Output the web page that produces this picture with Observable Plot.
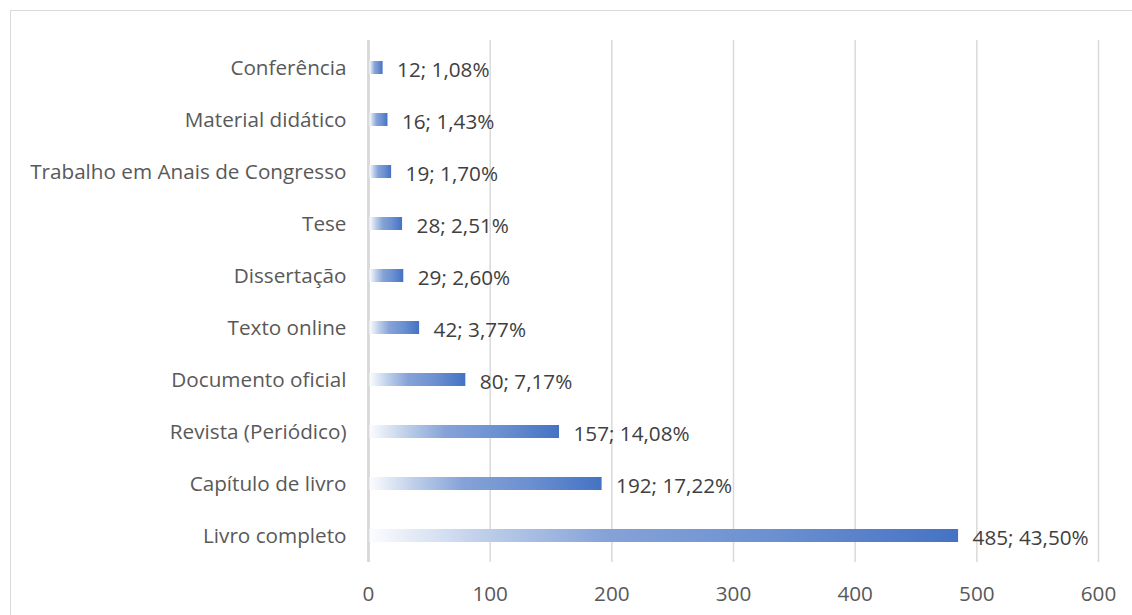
<!DOCTYPE html>
<html>
<head>
<meta charset="utf-8">
<script src="https://cdn.jsdelivr.net/npm/d3@7"></script>
<script src="https://cdn.jsdelivr.net/npm/@observablehq/plot@0.6"></script>
<style>
  html, body { margin: 0; padding: 0; background: #fff; overflow: hidden; }
  #wrap { position: relative; width: 1132px; height: 615px; }
  #frame { position: absolute; left: 10px; top: 10px; width: 1200px; height: 700px; border: 1.5px solid #d9d9d9; box-sizing: border-box; pointer-events: none; }
</style>
</head>
<body>
<div id="wrap"><div id="frame"></div></div>
<script>
const categories = ["Conferência", "Material didático", "Trabalho em Anais de Congresso", "Tese", "Dissertação", "Texto online", "Documento oficial", "Revista (Periódico)", "Capítulo de livro", "Livro completo"];
const counts = [12, 16, 19, 28, 29, 42, 80, 157, 192, 485];
const percents = ["1,08%", "1,43%", "1,70%", "2,51%", "2,60%", "3,77%", "7,17%", "14,08%", "17,22%", "43,50%"];
const xTicks = [0, 100, 200, 300, 400, 500, 600];

const data = categories.map((c, i) => ({category: c, count: counts[i], label: `${counts[i]}; ${percents[i]}`}));

const font = "'Open Sans', sans-serif";
const fs = 20.7;

const chart = Plot.plot({
  width: 1132,
  height: 615,
  marginLeft: 368,
  marginRight: 34,
  marginTop: 40,
  marginBottom: 53,
  style: {fontFamily: font, fontSize: fs + "px", background: "transparent", color: "#595959"},
  x: {domain: [0, 600], ticks: xTicks, label: null},
  y: {domain: categories, paddingInner: 0.75, paddingOuter: 0.375, label: null},
  marks: [
    Plot.gridX(xTicks.filter(d => d > 0), {stroke: "#d9d9d9", strokeOpacity: 1, strokeWidth: 1.5}),
    Plot.ruleX([0], {stroke: "#d9d9d9", strokeWidth: 3}),
    Plot.barX(data, {y: "category", x1: 1.2, x2: "count", fill: "url(#barGrad)"}),
    Plot.text(data, {y: "category", x: "count", text: "label", textAnchor: "start", dx: 14, dy: 2, fill: "#404040", fontSize: fs}),
    Plot.axisX({ticks: xTicks, tickSize: 0, tickPadding: 24, fill: "#595959", fontSize: fs, label: null, tickFormat: d => String(d)}),
    Plot.axisY({tickSize: 0, tickPadding: 22, fill: "#595959", fontSize: fs, label: null})
  ]
});

const svg = d3.select(chart);
const defs = svg.insert("defs", ":first-child");
const g = defs.append("linearGradient").attr("id", "barGrad").attr("x1", "0").attr("x2", "1").attr("y1", "0").attr("y2", "0");
[[0, "#fbfcfe"], [0.2, "#bccde9"], [0.4, "#86a3d8"], [0.7, "#6a8fd0"], [1, "#4472c4"]].forEach(([o, c]) =>
  g.append("stop").attr("offset", o).attr("stop-color", c));

document.getElementById("wrap").insertBefore(chart, document.getElementById("frame"));
chart.style.position = "absolute";
chart.style.left = "0";
chart.style.top = "0";
</script>
</body>
</html>
